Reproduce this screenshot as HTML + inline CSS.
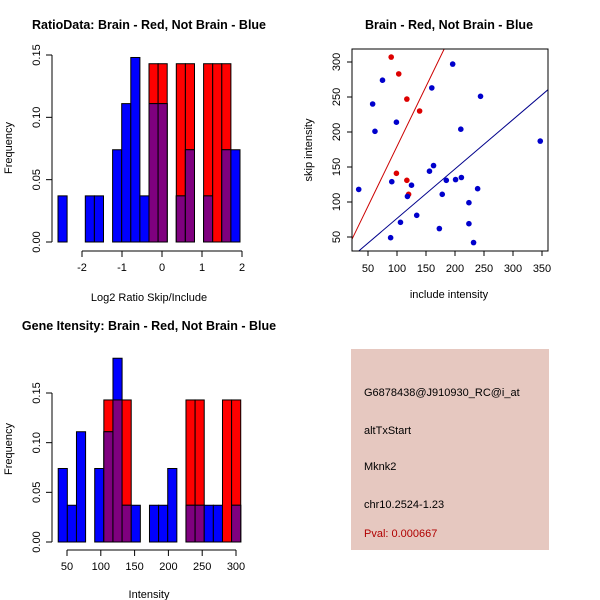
<!DOCTYPE html>
<html><head><meta charset="utf-8"><style>
html,body{margin:0;padding:0;background:#fff;}
svg{display:block;font-family:"Liberation Sans",Arial,sans-serif;}
</style></head><body>
<svg id="chart" width="600" height="600" viewBox="0 0 600 600" xmlns="http://www.w3.org/2000/svg">
<rect x="0" y="0" width="600" height="600" fill="#fff"/>
<text x="149" y="29" font-size="12.5" font-weight="bold" text-anchor="middle">RatioData: Brain - Red, Not Brain - Blue</text>
<text x="449" y="29" font-size="12.5" font-weight="bold" text-anchor="middle">Brain - Red, Not Brain - Blue</text>
<text x="149" y="330" font-size="12.5" font-weight="bold" text-anchor="middle">Gene Itensity: Brain - Red, Not Brain - Blue</text>
<g>
<rect x="351" y="349" width="198" height="201" fill="#e6c8c0"/>
<text x="364" y="396" font-size="11">G6878438@J910930_RC@i_at</text>
<text x="364" y="434" font-size="11">altTxStart</text>
<text x="364" y="470" font-size="11">Mknk2</text>
<text x="364" y="508" font-size="11">chr10.2524-1.23</text>
<text x="364" y="537" font-size="11" fill="#b00000">Pval: 0.000667</text>
</g>
</svg>
<script>
// ---- Ratio histogram data ----
const ratioBinStart = -2.6;
const ratioBinWidth = 0.2275;
const ratioBlue = [0.037,0,0,0.037,0.037,0,0.074,0.111,0.148,0.037,0.111,0.111,0,0.037,0.074,0,0.037,0,0.074,0.074];
const ratioRed  = [0,0,0,0,0,0,0,0,0,0,0.143,0.143,0,0.143,0.143,0,0.143,0.143,0.143,0];
const ratioXTicks = [-2,-1,0,1,2];
const ratioYTicks = [0,0.05,0.10,0.15];
const ratioYLabels = ["0.00","0.05","0.10","0.15"];
// ---- Intensity histogram data ----
const intBinStart = 37;
const intBinWidth = 13.5;
const intBlue = [0.074,0.037,0.111,0,0.074,0.111,0.185,0.037,0.037,0,0.037,0.037,0.074,0,0.037,0.037,0.037,0.037,0,0.037];
const intRed  = [0,0,0,0,0,0.143,0.143,0.143,0,0,0,0,0,0,0.143,0.143,0,0,0.143,0.143];
const intXTicks = [50,100,150,200,250,300];
const intYTicks = [0,0.05,0.10,0.15];
const intYLabels = ["0.00","0.05","0.10","0.15"];
// ---- Scatter data ----
const redInclude = [90,103,117,139,99,117,120];
const redSkip    = [307,283,247,230,141,131,111];
const blueInclude = [34,58,62,75,99,91,89,106,118,125,134,160,156,163,173,178,185,201,211,196,210,224,224,239,232,244,347];
const blueSkip    = [118,240,201,274,214,129,49,71,108,124,81,263,144,152,62,111,131,132,135,297,204,99,69,119,42,251,187];
const redLine = [8.5,1.71];   // intercept, slope
const blueLine = [6,0.706];
const scXTicks = [50,100,150,200,250,300,350];
const scYTicks = [50,100,150,200,250,300];

const NS="http://www.w3.org/2000/svg";
const svg=document.getElementById('chart');
function mk(tag,attrs,parent){const e=document.createElementNS(NS,tag);for(const k in attrs)e.setAttribute(k,attrs[k]);(parent||svg).appendChild(e);return e;}

function histogram(name,blue,red,binStart,binW,sx,sy,xTicks,yTicks,yLabels,axisY,xlabel,xlabelY,yLabelX,yMid){
  const g=mk('g',{});
  
  
  for(let i=0;i<blue.length;i++){
    const x0=sx(binStart+i*binW), x1=sx(binStart+(i+1)*binW);
    const b=blue[i], r=red[i];
    if(r>0){const e=mk('rect',{x:x0,y:sy(r),width:x1-x0,height:sy(0)-sy(r),fill:'#ff0000',stroke:'#000','stroke-width':1},g);
      
      }
    if(b>0){const e=mk('rect',{x:x0,y:sy(b),width:x1-x0,height:sy(0)-sy(b),fill:'#0000ff',stroke:'#000','stroke-width':1},g);
      
      }
    const m=Math.min(b,r);
    if(m>0){const e=mk('rect',{x:x0,y:sy(m),width:x1-x0,height:sy(0)-sy(m),fill:'#7f007f',stroke:'#000','stroke-width':1},g);
      
      }
  }
  const ya=mk('g',{},g);
  
  
  mk('line',{x1:52,x2:52,y1:sy(yTicks[0]),y2:sy(yTicks[yTicks.length-1]),stroke:'#000'},ya);
  yTicks.forEach((t,i)=>{mk('line',{x1:46,x2:52,y1:sy(t),y2:sy(t),stroke:'#000'},ya);
    const tx=mk('text',{x:0,y:0,'font-size':11,'text-anchor':'middle',transform:`translate(40,${sy(t)}) rotate(-90)`},ya);tx.textContent=yLabels[i];});
  const xa=mk('g',{},g);
  
  
  mk('line',{x1:sx(xTicks[0]),x2:sx(xTicks[xTicks.length-1]),y1:axisY,y2:axisY,stroke:'#000'},xa);
  xTicks.forEach(t=>{mk('line',{x1:sx(t),x2:sx(t),y1:axisY,y2:axisY+6,stroke:'#000'},xa);
    const tx=mk('text',{x:sx(t),y:axisY+20,'font-size':11,'text-anchor':'middle'},xa);tx.textContent=t;});
  const xl=mk('text',{x:149,y:xlabelY,'font-size':11,'text-anchor':'middle'},g);xl.textContent=xlabel;
  
  
  const yl=mk('text',{x:0,y:0,'font-size':11,'text-anchor':'middle',transform:`translate(12,${yMid}) rotate(-90)`},g);yl.textContent='Frequency';
  
  
}

histogram('ratio-histogram',ratioBlue,ratioRed,ratioBinStart,ratioBinWidth,
  v=>82+(v+2)*40, v=>242-v*1246.7, ratioXTicks,ratioYTicks,ratioYLabels,251,'Log2 Ratio Skip/Include',301,12,148);
histogram('intensity-histogram',intBlue,intRed,intBinStart,intBinWidth,
  v=>67+(v-50)*0.676, v=>542-v*993.3, intXTicks,intYTicks,intYLabels,550,'Intensity',598,12,449);

const sg=mk('g',{});


const scx=v=>368+(v-50)*0.58, scy=v=>237-(v-50)*0.7;
const clip=mk('clipPath',{id:'scClip'},sg);mk('rect',{x:352,y:49,width:196,height:202},clip);
function regLine(p,color,name){const x0=22,x1=362;
  const l=mk('line',{x1:scx(x0),y1:scy(p[0]+p[1]*x0),x2:scx(x1),y2:scy(p[0]+p[1]*x1),stroke:color,'stroke-width':1,'clip-path':'url(#scClip)'},sg);
  
  }
regLine(redLine,'#cc0000','red-fit-line');
regLine(blueLine,'#00008b','blue-fit-line');
redInclude.forEach((v,i)=>{const c=mk('circle',{cx:scx(v),cy:scy(redSkip[i]),r:2.8,fill:'#dd0000'},sg);
  
  });
blueInclude.forEach((v,i)=>{const c=mk('circle',{cx:scx(v),cy:scy(blueSkip[i]),r:2.8,fill:'#0000cc'},sg);
  
  });
mk('rect',{x:352,y:49,width:196,height:202,fill:'none',stroke:'#000'},sg);
scXTicks.forEach(t=>{mk('line',{x1:scx(t),x2:scx(t),y1:251,y2:256,stroke:'#000'},sg);
  const tx=mk('text',{x:scx(t),y:272,'font-size':11,'text-anchor':'middle'},sg);tx.textContent=t;});
scYTicks.forEach(t=>{mk('line',{x1:347,x2:352,y1:scy(t),y2:scy(t),stroke:'#000'},sg);
  const tx=mk('text',{x:0,y:0,'font-size':11,'text-anchor':'middle',transform:`translate(340,${scy(t)}) rotate(-90)`},sg);tx.textContent=t;});
const sxl=mk('text',{x:449,y:298,'font-size':11,'text-anchor':'middle'},sg);sxl.textContent='include intensity';


const syl=mk('text',{x:0,y:0,'font-size':11,'text-anchor':'middle',transform:'translate(312,150) rotate(-90)'},sg);syl.textContent='skip intensity';


</script>
</body></html>
